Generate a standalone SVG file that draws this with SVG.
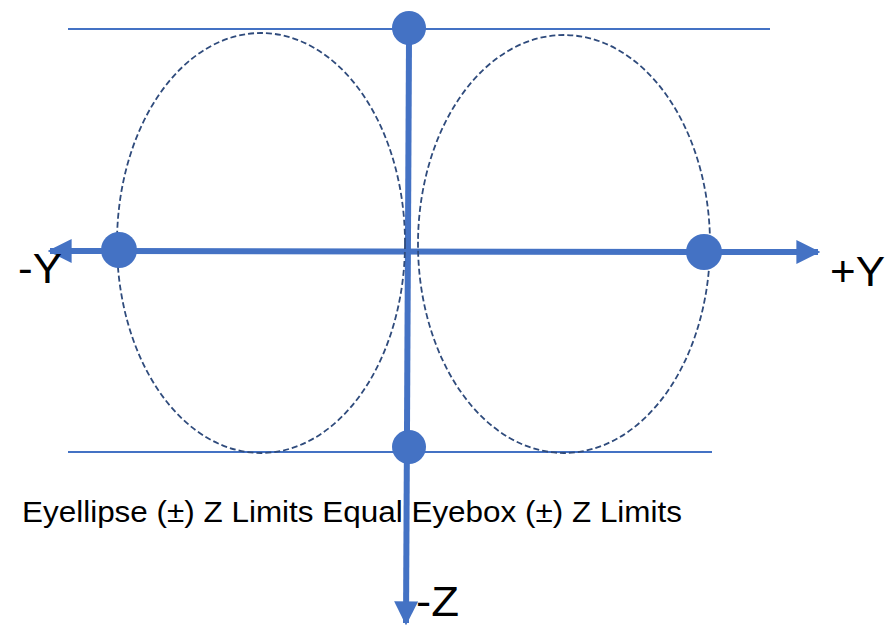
<svg xmlns="http://www.w3.org/2000/svg" width="888" height="627" viewBox="0 0 888 627">
<defs>
<style>
.lim{stroke:#4472C4;stroke-width:2;fill:none}
.ax{stroke:#4472C4;stroke-width:6;fill:none}
.ell{stroke:#2F4B7C;stroke-width:1.8;stroke-dasharray:6 3;fill:none}
.dot{fill:#4472C4}
.lbl{font-family:"Liberation Sans",Arial,sans-serif;fill:#000}
</style>
<marker id="ah" viewBox="0 0 10 10" refX="9" refY="5" markerWidth="4" markerHeight="4" orient="auto" markerUnits="strokeWidth">
<path d="M0,0 L10,5 L0,10 Z" fill="#4472C4"/>
</marker>
</defs>
<rect width="888" height="627" fill="#fff"/>
<g id="connectors">
<line class="lim" x1="68" y1="29" x2="770" y2="29"/>
<line class="lim" x1="68" y1="452" x2="712" y2="452"/>
<line class="ax" x1="700" y1="252" x2="818" y2="252" marker-end="url(#ah)"/>
<line class="ax" x1="130" y1="251" x2="50" y2="251" marker-end="url(#ah)"/>
<line class="ax" x1="119" y1="251" x2="704" y2="252"/>
<line class="ax" x1="409" y1="40" x2="406" y2="623" marker-end="url(#ah)"/>
</g>
<g id="eyellipse-left"><ellipse class="ell" cx="261" cy="243" rx="144" ry="210"/></g>
<g id="eyellipse-right"><ellipse class="ell" cx="564" cy="244" rx="146" ry="209"/></g>
<g id="dot-top"><circle class="dot" cx="409" cy="28" r="17"/></g>
<g id="dot-bottom"><circle class="dot" cx="409" cy="447" r="17"/></g>
<g id="dot-left"><circle class="dot" cx="119" cy="250" r="18"/></g>
<g id="dot-right"><circle class="dot" cx="704" cy="252" r="18"/></g>
<g id="label-negY"><text class="lbl" x="18" y="283" font-size="42" textLength="44" lengthAdjust="spacingAndGlyphs">-Y</text></g>
<g id="label-posY"><text class="lbl" x="830" y="286" font-size="42" textLength="55" lengthAdjust="spacingAndGlyphs">+Y</text></g>
<g id="label-negZ"><text class="lbl" x="416" y="616" font-size="42" textLength="43" lengthAdjust="spacingAndGlyphs">-Z</text></g>
<g id="caption"><text class="lbl" x="22" y="522" font-size="30" textLength="660" lengthAdjust="spacingAndGlyphs">Eyellipse (±) Z Limits Equal Eyebox (±) Z Limits</text></g>
</svg>
